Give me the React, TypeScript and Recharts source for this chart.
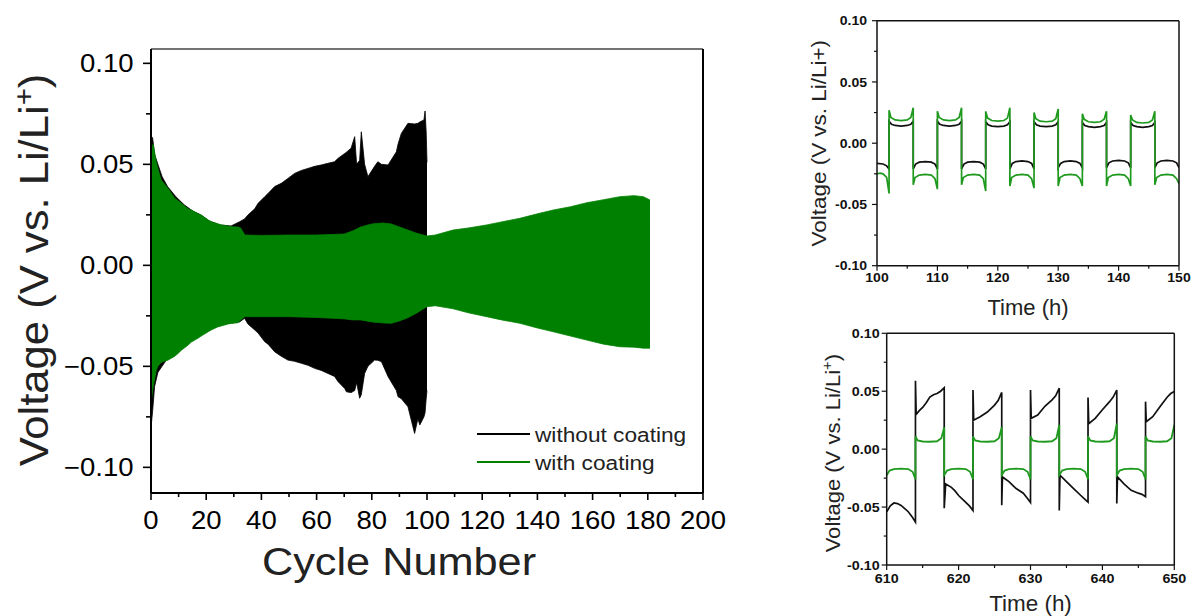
import React from 'react';
import { ComposedChart, Area, Line, XAxis, YAxis, Legend, ReferenceLine } from 'recharts';

const FONT = '"Liberation Sans", Arial, Helvetica, sans-serif';

// ---------- main chart ----------
const cycleTicks = [0, 10, 20, 30, 40, 50, 60, 70, 80, 90, 100, 110, 120, 130, 140, 150, 160, 170, 180, 190, 200];
const mainVoltageTicks = [-0.1, -0.075, -0.05, -0.025, 0, 0.025, 0.05, 0.075, 0.1];
const seriesNames = ['without coating', 'with coating'];
const mainColors = ['#000000', '#008000'];
const insetColors = ['#111111', '#1f9a1f'];

// [cycle, lower envelope, upper envelope]
const withoutCoatingEnvelope: [number, number, number][] = [
  [0.1, -0.079, 0.064], [0.6, -0.072, 0.063], [1.3, -0.06, 0.055], [2.5, -0.053, 0.05],
  [4, -0.05, 0.044], [6, -0.046, 0.039], [9, -0.043, 0.034], [12, -0.04, 0.03],
  [15, -0.037, 0.027], [18, -0.034, 0.025], [21, -0.032, 0.022], [25, -0.0295, 0.02],
  [29, -0.0285, 0.0195], [32.1, -0.028, 0.0216], [33.9, -0.0262, 0.023], [35.1, -0.029, 0.0249],
  [37.6, -0.032, 0.028], [38.8, -0.0335, 0.0307], [41.2, -0.0378, 0.034], [42.4, -0.039, 0.0356],
  [44.8, -0.0428, 0.039], [47.2, -0.045, 0.0406], [49.6, -0.0469, 0.043], [52, -0.0475, 0.0455],
  [54.5, -0.0485, 0.047], [56.9, -0.0495, 0.048], [59.3, -0.051, 0.049], [61.7, -0.052, 0.0497],
  [64.1, -0.0535, 0.0505], [66.5, -0.055, 0.0513], [67.8, -0.0576, 0.053], [70.2, -0.061, 0.0554],
  [70.8, -0.0626, 0.056], [72.5, -0.063, 0.058], [73.8, -0.062, 0.0637], [74.5, -0.058, 0.05],
  [75.6, -0.0658, 0.052], [76.2, -0.064, 0.0661], [77.4, -0.0535, 0.05], [78.6, -0.05, 0.0439],
  [81, -0.0469, 0.049], [82.2, -0.047, 0.0513], [83.5, -0.0477, 0.05], [85.9, -0.0551, 0.0497],
  [88.9, -0.062, 0.0562], [89.5, -0.065, 0.06], [90.7, -0.066, 0.0653], [93.1, -0.07, 0.0703],
  [95.5, -0.0832, 0.07], [96.7, -0.076, 0.0703], [97.4, -0.079, 0.071], [98.9, -0.075, 0.072],
  [99.3, -0.073, 0.0764], [99.7, -0.066, 0.066], [100, -0.062, 0.051],
];

const withCoatingEnvelope: [number, number, number][] = [
  [0.2, -0.066, 0.058], [0.8, -0.06, 0.06], [1.9, -0.052, 0.0513], [2.5, -0.05, 0.048],
  [3.7, -0.048, 0.0422], [6.2, -0.0469, 0.0381], [8.6, -0.045, 0.0332], [9.8, -0.0436, 0.032],
  [11, -0.042, 0.0307], [13.4, -0.0395, 0.028], [14.6, -0.038, 0.0274], [17, -0.0361, 0.0255],
  [18.2, -0.035, 0.0249], [20.7, -0.0329, 0.0225], [21.8, -0.032, 0.0216], [24.3, -0.0304, 0.0205],
  [25.5, -0.03, 0.02], [27.9, -0.029, 0.0195], [29.1, -0.0288, 0.0191], [31.5, -0.0284, 0.019],
  [32.5, -0.027, 0.0185], [34, -0.0254, 0.015], [40, -0.0254, 0.0148], [50, -0.0254, 0.015],
  [60, -0.0258, 0.015], [70, -0.0265, 0.0155], [73, -0.027, 0.017], [76, -0.027, 0.019],
  [80, -0.028, 0.0205], [84, -0.0285, 0.021], [87, -0.0287, 0.0205], [90, -0.0275, 0.019],
  [93, -0.026, 0.0175], [96, -0.0238, 0.016], [99.9, -0.0205, 0.0145], [103, -0.02, 0.015],
  [109.5, -0.0215, 0.0175], [115, -0.0235, 0.0185], [121.6, -0.0254, 0.02], [127, -0.027, 0.0215],
  [133.7, -0.0287, 0.0233], [140, -0.031, 0.0255], [145.8, -0.0329, 0.0274], [152, -0.035, 0.029],
  [157.9, -0.037, 0.031], [164, -0.039, 0.0325], [169.9, -0.0403, 0.034], [175, -0.0405, 0.0345],
  [178.4, -0.041, 0.034], [180.8, -0.041, 0.0323],
];

// ---------- insets ----------
const insetVoltageTicks = [-0.1, -0.075, -0.05, -0.025, 0, 0.025, 0.05, 0.075, 0.1];
const topTimeTicks = [100, 105, 110, 115, 120, 125, 130, 135, 140, 145, 150];
const bottomTimeTicks = [610, 615, 620, 625, 630, 635, 640, 645, 650];

// [time (h), voltage]
const topWithout: [number, number][] = [
  [100, -0.0165], [101, -0.017], [101.6, -0.0185], [102, -0.021],
  [102, 0.018], [102.4, 0.0155], [103, 0.0145], [104, 0.014], [105, 0.0145], [105.6, 0.0155], [106, 0.018],
  [106, -0.021], [106.4, -0.017], [107, -0.0155], [108, -0.015], [109, -0.0155], [109.6, -0.017], [110, -0.021],
  [110, 0.018], [110.4, 0.0155], [111, 0.0145], [112, 0.014], [113, 0.0145], [113.6, 0.0155], [114, 0.018],
  [114, -0.021], [114.4, -0.017], [115, -0.0155], [116, -0.015], [117, -0.0155], [117.6, -0.017], [118, -0.021],
  [118, 0.0175], [118.4, 0.015], [119, 0.014], [120, 0.0135], [121, 0.014], [121.6, 0.015], [122, 0.0175],
  [122, -0.021], [122.4, -0.0165], [123, -0.015], [124, -0.0145], [125, -0.015], [125.6, -0.0165], [126, -0.021],
  [126, 0.0175], [126.4, 0.015], [127, 0.014], [128, 0.0135], [129, 0.014], [129.6, 0.015], [130, 0.0175],
  [130, -0.02], [130.4, -0.0165], [131, -0.015], [132, -0.0145], [133, -0.015], [133.6, -0.0165], [134, -0.02],
  [134, 0.017], [134.4, 0.0145], [135, 0.0135], [136, 0.013], [137, 0.0135], [137.6, 0.0145], [138, 0.017],
  [138, -0.02], [138.4, -0.016], [139, -0.0145], [140, -0.014], [141, -0.0145], [141.6, -0.016], [142, -0.02],
  [142, 0.017], [142.4, 0.0145], [143, 0.0135], [144, 0.013], [145, 0.0135], [145.6, 0.0145], [146, 0.017],
  [146, -0.02], [146.4, -0.016], [147, -0.0145], [148, -0.014], [149, -0.0145], [149.6, -0.016], [150, -0.02],
];

const topWith: [number, number][] = [
  [100, -0.025], [100.5, -0.0245], [101, -0.025], [101.6, -0.028], [102, -0.041],
  [102, 0.027], [102.3, 0.021], [103, 0.019], [104, 0.0185], [105, 0.019], [105.6, 0.021], [106, 0.029],
  [106, -0.034], [106.3, -0.028], [107, -0.026], [108, -0.0255], [109, -0.026], [109.6, -0.029], [110, -0.0375],
  [110, 0.026], [110.3, 0.021], [111, 0.019], [112, 0.0185], [113, 0.019], [113.6, 0.021], [114, 0.029],
  [114, -0.034], [114.3, -0.028], [115, -0.026], [116, -0.0255], [117, -0.026], [117.6, -0.029], [118, -0.039],
  [118, 0.026], [118.3, 0.0205], [119, 0.0185], [120, 0.018], [121, 0.0185], [121.6, 0.0205], [122, 0.029],
  [122, -0.035], [122.3, -0.028], [123, -0.026], [124, -0.0255], [125, -0.026], [125.6, -0.029], [126, -0.0367],
  [126, 0.025], [126.3, 0.02], [127, 0.018], [128, 0.0175], [129, 0.018], [129.6, 0.02], [130, 0.028],
  [130, -0.035], [130.3, -0.028], [131, -0.026], [132, -0.0255], [133, -0.026], [133.6, -0.029], [134, -0.035],
  [134, 0.024], [134.3, 0.0195], [135, 0.0175], [136, 0.017], [137, 0.0175], [137.6, 0.0195], [138, 0.026],
  [138, -0.035], [138.3, -0.028], [139, -0.026], [140, -0.0255], [141, -0.026], [141.6, -0.029], [142, -0.035],
  [142, 0.023], [142.3, 0.019], [143, 0.017], [144, 0.0165], [145, 0.017], [145.6, 0.019], [146, 0.026],
  [146, -0.034], [146.3, -0.028], [147, -0.026], [148, -0.0255], [149, -0.026], [149.6, -0.029], [150, -0.033],
];

const bottomWithout: [number, number][] = [
  [610, -0.054], [610.5, -0.049], [611, -0.0465], [611.5, -0.047], [612, -0.0486], [613, -0.054], [613.6, -0.059], [614, -0.063],
  [614, 0.059], [614.1, 0.03], [614.5, 0.033], [615, 0.036], [615.5, 0.04], [616, 0.045], [616.5, 0.047], [617, 0.048], [617.5, 0.05], [618, 0.053],
  [618, -0.051], [618.2, -0.03], [619, -0.033], [619.5, -0.036], [620, -0.04], [621, -0.046], [621.5, -0.049], [622, -0.053],
  [622, 0.051], [622.1, 0.025], [623, 0.028], [624, 0.032], [625, 0.038], [625.5, 0.042], [626, 0.049],
  [626, -0.0485], [626.1, -0.024], [627, -0.028], [628, -0.034], [629, -0.038], [629.5, -0.042], [630, -0.046],
  [630, 0.051], [630.1, 0.0266], [631, 0.0295], [632, 0.037], [633, 0.0425], [633.5, 0.046], [634, 0.0526],
  [634, -0.053], [634.1, -0.0225], [635, -0.028], [636, -0.034], [637, -0.04], [637.5, -0.043], [638, -0.0457],
  [638, 0.0445], [638.1, 0.022], [639, 0.0266], [640, 0.034], [641, 0.041], [641.5, 0.045], [642, 0.051],
  [642, -0.047], [642.1, -0.024], [643, -0.03], [644, -0.0355], [645, -0.038], [645.5, -0.039], [646, -0.041],
  [646, 0.041], [646.1, 0.0237], [647, 0.028], [648, 0.0367], [649, 0.0448], [649.5, 0.048], [650, 0.0497],
];

const bottomWith: [number, number][] = [
  [610, -0.0225], [610.4, -0.0185], [611, -0.0172], [612, -0.0168], [613, -0.0172], [613.6, -0.0195], [614, -0.026],
  [614, 0.011], [614.3, 0.0075], [615, 0.0066], [616, 0.0064], [617, 0.0068], [617.6, 0.0095], [618, 0.019],
  [618, -0.0225], [618.4, -0.0185], [619, -0.0172], [620, -0.0168], [621, -0.0172], [621.6, -0.0195], [622, -0.026],
  [622, 0.011], [622.3, 0.0075], [623, 0.0066], [624, 0.0064], [625, 0.0068], [625.6, 0.0095], [626, 0.019],
  [626, -0.0225], [626.4, -0.0185], [627, -0.0172], [628, -0.0168], [629, -0.0172], [629.6, -0.0195], [630, -0.026],
  [630, 0.011], [630.3, 0.0075], [631, 0.0066], [632, 0.0064], [633, 0.0068], [633.6, 0.0095], [634, 0.021],
  [634, -0.0225], [634.4, -0.0185], [635, -0.0172], [636, -0.0168], [637, -0.0172], [637.6, -0.0195], [638, -0.026],
  [638, 0.011], [638.3, 0.0075], [639, 0.0066], [640, 0.0064], [641, 0.0068], [641.6, 0.0095], [642, 0.022],
  [642, -0.0225], [642.4, -0.0185], [643, -0.0172], [644, -0.0168], [645, -0.0172], [645.6, -0.0195], [646, -0.026],
  [646, 0.011], [646.3, 0.0075], [647, 0.0066], [648, 0.0064], [649, 0.0068], [649.6, 0.0095], [650, 0.021],
];

// ---------- helpers ----------
const toRange = (rows: [number, number, number][]) => rows.map(([c, lo, hi]) => ({ c, r: [lo, hi] }));
const toPts = (rows: [number, number][]) => rows.map(([t, v]) => ({ t, v }));

type TickCfg = {
  major: number; minor: number; gap: number;
  isMajor: (v: number) => boolean; fmt: (v: number) => string;
  fontSize: number; fontWeight?: number | string; sx: number; color: string; width: number;
};

const makeBottomTick = (cfg: TickCfg) => (props: any) => {
  const { x, y, payload } = props;
  const v = payload.value;
  const m = cfg.isMajor(v);
  return (
    <g>
      <line x1={x} y1={y} x2={x} y2={y + (m ? cfg.major : cfg.minor)} stroke={cfg.color} strokeWidth={cfg.width} />
      {m && (
        <text transform={`translate(${x},${y + cfg.major + cfg.gap}) scale(${cfg.sx},1)`} textAnchor="middle" dy="0.71em"
          fontSize={cfg.fontSize} fontWeight={cfg.fontWeight} fontFamily={FONT} fill={cfg.color}>{cfg.fmt(v)}</text>
      )}
    </g>
  );
};

const makeLeftTick = (cfg: TickCfg) => (props: any) => {
  const { x, y, payload } = props;
  const v = payload.value;
  const m = cfg.isMajor(v);
  return (
    <g>
      <line x1={x - (m ? cfg.major : cfg.minor)} y1={y} x2={x} y2={y} stroke={cfg.color} strokeWidth={cfg.width} />
      {m && (
        <text transform={`translate(${x - cfg.major - cfg.gap},${y}) scale(${cfg.sx},1)`} textAnchor="end" dy="0.355em"
          fontSize={cfg.fontSize} fontWeight={cfg.fontWeight} fontFamily={FONT} fill={cfg.color}>{cfg.fmt(v)}</text>
      )}
    </g>
  );
};

const isMajorV = (v: number) => Math.abs(Math.round(v * 1000)) % 50 === 0;
const fmtMainV = (v: number) => (v < 0 ? '\u2212' : '') + Math.abs(v).toFixed(2);
const fmtInsetV = (v: number) => v.toFixed(2);

const mainXTick = makeBottomTick({ major: 7, minor: 4, gap: 11.5, isMajor: (v) => v % 20 === 0, fmt: String, fontSize: 25, sx: 1.1, color: '#000', width: 1.6 });
const mainYTick = makeLeftTick({ major: 8, minor: 5, gap: 9.5, isMajor: isMajorV, fmt: fmtMainV, fontSize: 25, sx: 1.1, color: '#000', width: 1.6 });
const topXTick = makeBottomTick({ major: 5, minor: 3, gap: 2.5, isMajor: (v) => v % 10 === 0, fmt: String, fontSize: 13, fontWeight: 'bold', sx: 1.08, color: '#111', width: 1.2 });
const topYTick = makeLeftTick({ major: 5, minor: 3, gap: 5, isMajor: isMajorV, fmt: fmtInsetV, fontSize: 13, fontWeight: 'bold', sx: 1.08, color: '#111', width: 1.2 });
const botXTick = makeBottomTick({ major: 5, minor: 3, gap: 3.5, isMajor: (v) => v % 10 === 0, fmt: String, fontSize: 13, fontWeight: 'bold', sx: 1.1, color: '#111', width: 1.2 });
const botYTick = makeLeftTick({ major: 5, minor: 3, gap: 2, isMajor: isMajorV, fmt: fmtInsetV, fontSize: 13, fontWeight: 'bold', sx: 1.1, color: '#111', width: 1.2 });

const YTitle = ({ cx, cy, size, sx, sup, supSize }: { cx: number; cy: number; size: number; sx: number; sup: boolean; supSize: number }) => (
  <text transform={`translate(${cx},${cy}) rotate(-90) scale(${sx},1)`} textAnchor="middle" fontSize={size} fontFamily={FONT} fill="#222">
    {'Voltage (V vs. Li/Li'}
    {sup ? (
      <>
        <tspan dy={-size * 0.38} fontSize={supSize}>+</tspan>
        <tspan dy={size * 0.38}>)</tspan>
      </>
    ) : (
      '+)'
    )}
  </text>
);

const XTitle = ({ cx, y, size, sx, text }: { cx: number; y: number; size: number; sx: number; text: string }) => (
  <text transform={`translate(${cx},${y}) scale(${sx},1)`} textAnchor="middle" fontSize={size} fontFamily={FONT} fill="#222">{text}</text>
);

const renderLegend = (props: any) => {
  const payload = [...(props.payload || [])].sort(
    (a: any, b: any) => seriesNames.indexOf(a.value) - seriesNames.indexOf(b.value),
  );
  return (
    <svg width={240} height={60} style={{ display: 'block' }}>
      {payload.map((p: any, i: number) => (
        <g key={i}>
          <line x1={7} x2={60} y1={16 + i * 28} y2={16 + i * 28} stroke={p.color} strokeWidth={2} />
          <text transform={`translate(65,${16 + i * 28}) scale(1.08,1)`} dy="0.36em" fontSize={21} fontFamily={FONT} fill="#222">{p.value}</text>
        </g>
      ))}
    </svg>
  );
};

const mainDomain: [number, number] = [-0.1127, 0.1071];
const mainXDomain: [number, number] = [0, 200];
const topXDomain: [number, number] = [100, 150];
const bottomXDomain: [number, number] = [610, 650];
const insetYDomain: [number, number] = [-0.1, 0.1];

export default function App() {
  return (
    <div style={{ position: 'absolute', left: 0, top: 0, width: 1191, height: 616, background: '#fff' }}>
      {/* main chart */}
      <div style={{ position: 'absolute', left: 0, top: 0 }}>
        <ComposedChart width={730} height={600} margin={{ top: 49, right: 27, bottom: 0, left: 0 }}>
          <Area data={toRange(withoutCoatingEnvelope)} dataKey="r" name={seriesNames[0]} type="linear"
            fill={mainColors[0]} stroke={mainColors[0]} strokeWidth={0.8} fillOpacity={1}
            isAnimationActive={false} dot={false} activeDot={false} />
          <Area data={toRange(withCoatingEnvelope)} dataKey="r" name={seriesNames[1]} type="linear"
            fill={mainColors[1]} stroke={mainColors[1]} strokeWidth={0.8} fillOpacity={1}
            isAnimationActive={false} dot={false} activeDot={false} />
          <ReferenceLine y={mainDomain[1]} stroke="#444" strokeWidth={1.3} ifOverflow="visible" />
          <ReferenceLine x={mainXDomain[1]} stroke="#000" strokeWidth={2} ifOverflow="visible" />
          <XAxis dataKey="c" type="number" domain={mainXDomain} ticks={cycleTicks} interval={0} allowDataOverflow
            tickSize={0} tickMargin={0} tickLine={false} tick={mainXTick} height={107}
            axisLine={{ stroke: '#000', strokeWidth: 2 }}
            label={(p: any) => <XTitle cx={(p.viewBox?.x ?? 151) + 248} y={(p.viewBox?.y ?? 493) + 82} size={39} sx={1.11} text="Cycle Number" />} />
          <YAxis type="number" domain={mainDomain} ticks={mainVoltageTicks} interval={0} allowDataOverflow
            tickSize={0} tickMargin={0} tickLine={false} tick={mainYTick} width={151}
            axisLine={{ stroke: '#000', strokeWidth: 2 }}
            label={(p: any) => <YTitle cx={48} cy={(p.viewBox?.y ?? 49) + (p.viewBox?.height ?? 444) / 2 - 1} size={40} sx={1.09} sup supSize={27} />} />
          <Legend layout="horizontal" verticalAlign="middle" align="center" content={renderLegend}
            wrapperStyle={{ left: 470, top: 418, width: 240, height: 60 }} />
        </ComposedChart>
      </div>

      {/* top inset */}
      <div style={{ position: 'absolute', left: 780, top: 0 }}>
        <ComposedChart width={411} height={320} margin={{ top: 20.7, right: 12, bottom: 0, left: 0 }}>
          <Line data={toPts(topWithout)} dataKey="v" name={seriesNames[0]} type="linear" stroke={insetColors[0]} strokeWidth={1.7}
            dot={false} activeDot={false} isAnimationActive={false} />
          <Line data={toPts(topWith)} dataKey="v" name={seriesNames[1]} type="linear" stroke={insetColors[1]} strokeWidth={1.7}
            dot={false} activeDot={false} isAnimationActive={false} />
          <ReferenceLine y={insetYDomain[1]} stroke="#111" strokeWidth={1.5} ifOverflow="visible" />
          <ReferenceLine x={topXDomain[1]} stroke="#111" strokeWidth={1.5} ifOverflow="visible" />
          <XAxis dataKey="t" type="number" domain={topXDomain} ticks={topTimeTicks} interval={0} allowDataOverflow
            tickSize={0} tickMargin={0} tickLine={false} tick={topXTick} height={54.3}
            axisLine={{ stroke: '#111', strokeWidth: 1.5 }}
            label={(p: any) => <XTitle cx={(p.viewBox?.x ?? 97) + (p.viewBox?.width ?? 302) / 2} y={(p.viewBox?.y ?? 265.7) + 49} size={22} sx={1} text="Time (h)" />} />
          <YAxis type="number" domain={insetYDomain} ticks={insetVoltageTicks} interval={0} allowDataOverflow
            tickSize={0} tickMargin={0} tickLine={false} tick={topYTick} width={97}
            axisLine={{ stroke: '#111', strokeWidth: 1.5 }}
            label={(p: any) => <YTitle cx={46} cy={(p.viewBox?.y ?? 20.7) + (p.viewBox?.height ?? 245) / 2} size={21} sx={1.07} sup={false} supSize={14} />} />
        </ComposedChart>
      </div>

      {/* bottom inset */}
      <div style={{ position: 'absolute', left: 780, top: 320 }}>
        <ComposedChart width={411} height={296} margin={{ top: 13.3, right: 16.7, bottom: 0, left: 0 }}>
          <Line data={toPts(bottomWithout)} dataKey="v" name={seriesNames[0]} type="linear" stroke={insetColors[0]} strokeWidth={1.7}
            dot={false} activeDot={false} isAnimationActive={false} />
          <Line data={toPts(bottomWith)} dataKey="v" name={seriesNames[1]} type="linear" stroke={insetColors[1]} strokeWidth={1.8}
            dot={false} activeDot={false} isAnimationActive={false} />
          <ReferenceLine y={insetYDomain[1]} stroke="#111" strokeWidth={1.5} ifOverflow="visible" />
          <ReferenceLine x={bottomXDomain[1]} stroke="#111" strokeWidth={1.5} ifOverflow="visible" />
          <XAxis dataKey="t" type="number" domain={bottomXDomain} ticks={bottomTimeTicks} interval={0} allowDataOverflow
            tickSize={0} tickMargin={0} tickLine={false} tick={botXTick} height={51}
            axisLine={{ stroke: '#111', strokeWidth: 1.5 }}
            label={(p: any) => <XTitle cx={(p.viewBox?.x ?? 106.7) + (p.viewBox?.width ?? 287.6) / 2} y={(p.viewBox?.y ?? 245) + 46} size={22} sx={1.02} text="Time (h)" />} />
          <YAxis type="number" domain={insetYDomain} ticks={insetVoltageTicks} interval={0} allowDataOverflow
            tickSize={0} tickMargin={0} tickLine={false} tick={botYTick} width={106.7}
            axisLine={{ stroke: '#111', strokeWidth: 1.5 }}
            label={(p: any) => <YTitle cx={60} cy={(p.viewBox?.y ?? 13.3) + (p.viewBox?.height ?? 231.7) / 2 + 4} size={21} sx={1.05} sup supSize={14} />} />
        </ComposedChart>
      </div>
    </div>
  );
}
